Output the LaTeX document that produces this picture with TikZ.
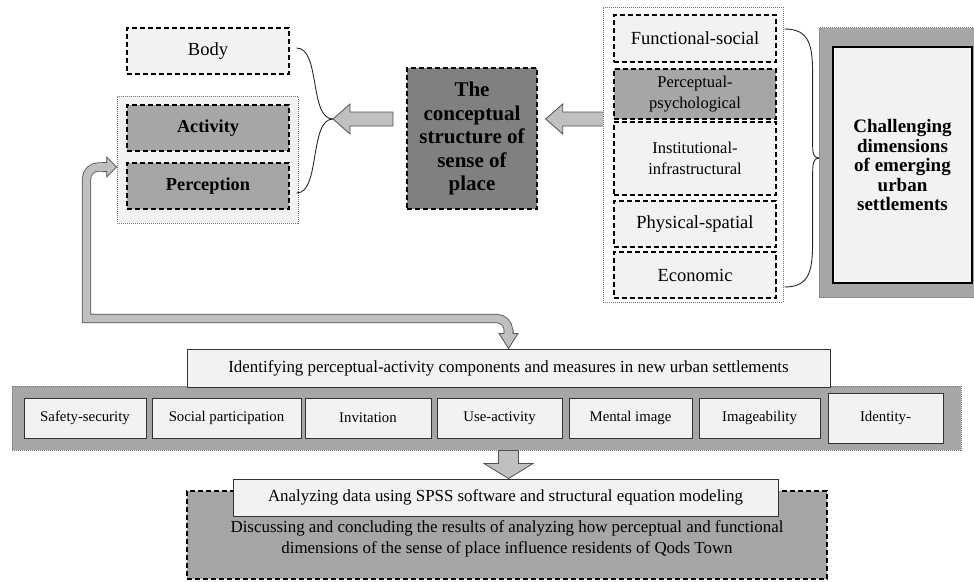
\documentclass[tikz,border=0pt]{standalone}
\usepackage{fontspec}
\setmainfont{Liberation Serif}
\usetikzlibrary{calc}
\definecolor{boxlight}{HTML}{F2F2F2}
\definecolor{boxmid}{HTML}{A6A6A6}
\definecolor{boxdark}{HTML}{808080}
\definecolor{arrowgray}{HTML}{C0C0C0}
\definecolor{edgegray}{HTML}{505050}

\begin{document}
\begin{tikzpicture}[x=1pt, y=-1pt,
        dashbox/.style={draw, line width=1.3pt, dash pattern=on 5pt off 3pt, fill=boxlight, align=center, inner sep=2pt},
        groupbox/.style={draw=black!55, line width=0.7pt, dash pattern=on 1pt off 1pt},
        itembox/.style={draw=black!80, line width=1pt, fill=boxlight, inner sep=0pt, font=\fontsize{14.8}{17}\selectfont},
        linebox/.style={draw=black!80, line width=1pt, fill=boxlight, inner sep=0pt, font=\fontsize{16.9}{20}\selectfont},
        blockarrow/.style={draw=edgegray, fill=arrowgray, line width=0.8pt},
        bracecurve/.style={black!85, line width=0.9pt},
        bigtext/.style={font=\fontsize{18.5}{21}\selectfont},
        smalltext/.style={font=\fontsize{16.5}{20.5}\selectfont},
    ]
    \useasboundingbox (0,0) rectangle (974,581);

    % === Left column: body, activity, perception ===
    \node[dashbox, bigtext, minimum width=162, minimum height=46] (body) at (208,51) {Body};
    \node[groupbox, fill=boxlight, minimum width=181, minimum height=127] (actgroup) at (207.5,159.5) {};
    \node[dashbox, fill=boxmid, font=\fontsize{18.3}{21}\selectfont\bfseries, minimum width=162, minimum height=46] (activity) at (208,128) {Activity};
    \node[dashbox, fill=boxmid, font=\fontsize{18.3}{21}\selectfont\bfseries, minimum width=162, minimum height=46] (perception) at (208,186) {Perception};

    % brace on the left
    \coordinate (lb1) at ($(body.east)+(7,-3)$);
    \coordinate (lb2) at ($(perception.east)+(7,7)$);
    \coordinate (lbtip) at (333,119);
    \draw[bracecurve] (lb1) .. controls +(24,0) and +(-24,0) .. (lbtip) .. controls +(-24,0) and +(24,0) .. (lb2);

    % === Middle: concept ===
    \node[dashbox, fill=boxdark, font=\fontsize{21}{23.5}\selectfont\bfseries, minimum width=130, minimum height=141] (concept) at (472,138.5) {The\\conceptual\\structure of\\sense of\\place};

    \filldraw[blockarrow] (lbtip) -- ++(17,-15) -- ++(0,8) -- ++(43,0) -- ++(0,14) -- ++(-43,0) -- ++(0,8) -- cycle;
    \coordinate (atip) at ($(concept.east)+(8,-19.5)$);
    \filldraw[blockarrow] (atip) -- ++(17,-15) -- ++(0,8) -- ++(41,0) -- ++(0,14) -- ++(-41,0) -- ++(0,8) -- cycle;

    % === Right column: dimensions ===
    \node[groupbox, fill=white, minimum width=180, minimum height=295] (dimgroup) at (693,154.5) {};
    \node[dashbox, bigtext, minimum width=162, minimum height=47] (funcsoc) at (695,38.5) {Functional-social};
    \node[dashbox, smalltext, fill=boxmid, minimum width=162, minimum height=50] (percpsy) at (695,94) {Perceptual-\\psychological};
    \node[dashbox, smalltext, minimum width=162, minimum height=73] (instinf) at (695,158.5) {Institutional-\\infrastructural};
    \node[dashbox, bigtext, minimum width=162, minimum height=46] (physsp) at (695,224) {Physical-spatial};
    \node[dashbox, bigtext, minimum width=162, minimum height=46] (econ) at (695,275) {Economic};

    % brace on the right
    \coordinate (rb1) at ($(funcsoc.east)+(8,-9.5)$);
    \coordinate (rb2) at ($(econ.east)+(8,12)$);
    \coordinate (rbtip) at (819,158);
    \draw[bracecurve] (rb1) .. controls +(26,0) and +(0,-30) .. ++(28,48) -- ++(0,66) .. controls +(0,10) and +(-6,0) .. (rbtip);
    \draw[bracecurve] (rb2) .. controls +(26,0) and +(0,30) .. ++(28,-48) -- ++(0,-64) .. controls +(0,-10) and +(-6,0) .. (rbtip);

    \node[groupbox, fill=boxmid, minimum width=161, minimum height=270] (chalouter) at (899.5,162.5) {};
    \node[draw, line width=2.2pt, fill=boxlight, align=center, font=\fontsize{19}{19.5}\selectfont\bfseries, minimum width=139, minimum height=236] (chalinner) at (902.5,165) {Challenging\\dimensions\\of emerging\\urban\\settlements};

    % === Bottom: measures ===
    \node[groupbox, fill=boxmid, minimum width=949, minimum height=64] (measgroup) at (486.5,418) {};
    \node[linebox, minimum width=643, minimum height=38] (ident) at (508.5,368) {Identifying perceptual-activity components and measures in new urban settlements};
    \node[itembox, minimum width=122, minimum height=40] (safety) at (85,418) {Safety-security};
    \node[itembox, minimum width=149, minimum height=40] (social) at (226.5,418) {Social participation};
    \node[itembox, minimum width=126, minimum height=40] (invit) at (368,418) {Invitation};
    \node[itembox, minimum width=125, minimum height=40] (useact) at (499.5,418) {Use-activity};
    \node[itembox, minimum width=123, minimum height=40] (mental) at (630.5,418) {Mental image};
    \node[itembox, minimum width=121, minimum height=40] (imageab) at (759.5,418) {Imageability};
    \node[itembox, minimum width=115, minimum height=50] (identity) at (885.5,418) {Identity-};

    \node[dashbox, fill=boxmid, minimum width=640, minimum height=88] (anaouter) at (507,535) {};
    \node[linebox, minimum width=545, minimum height=37] (spss) at (505.5,497.5) {Analyzing data using SPSS software and structural equation modeling};
    \node[align=center, font=\fontsize{16.9}{21}\selectfont, inner sep=0pt] (discuss) at (507,538.5) {Discussing and concluding the results of analyzing how perceptual and functional\\dimensions of the sense of place influence residents of Qods Town};

    % down arrow to the analysis
    \coordinate (dtip) at (ident.center |- spss.north);
    \filldraw[blockarrow] (dtip) -- ++(-24.5,-15) -- ++(14.5,0) -- ++(0,-13) -- ++(20,0) -- ++(0,13) -- ++(14.5,0) -- cycle;

    % bent arrow from the measures back up
    \coordinate (btip) at ($(actgroup.west)+(0,7.5)$);
    \draw[draw=edgegray, line width=0.8pt, double=arrowgray, double distance=7.6pt] ($(btip)+(-12,0)$) [rounded corners=12pt] -- (86.5,167) [sharp corners] -- (86.5,318.5) [rounded corners=12pt] -- (508.5,318.5) -- (508.5,332);
    \filldraw[blockarrow] ($(btip)+(-14,-4.6)$) -- ++(4,0) -- ++(0,-5.4) -- (btip) -- ++(-10,10) -- ++(0,-5.4) -- ++(-4,0);
    \filldraw[blockarrow] ($(ident.north)+(-4.6,-19)$) -- ++(0,4) -- ++(-4.9,0) -- (ident.north) -- ++(9.5,-15) -- ++(-4.9,0) -- ++(0,-4);

\end{tikzpicture}
\end{document}
